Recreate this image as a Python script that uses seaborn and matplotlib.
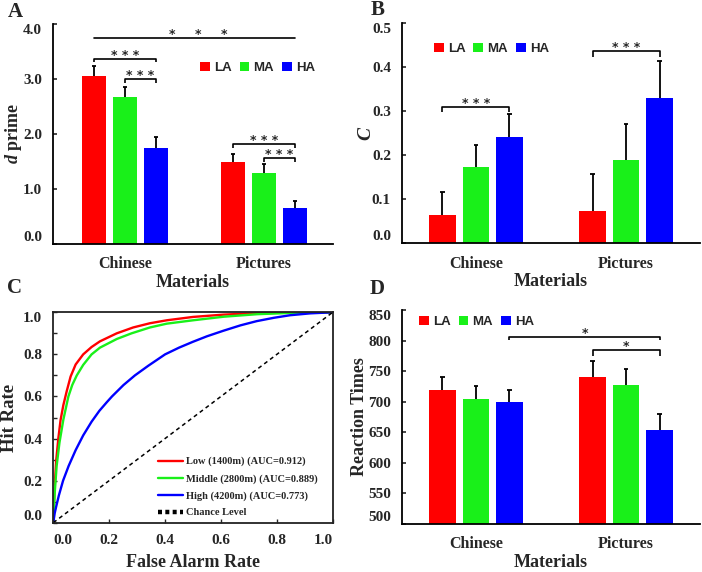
import numpy as np
import pandas as pd
import matplotlib
matplotlib.use("Agg")
import matplotlib.pyplot as plt
import seaborn as sns
from matplotlib.patches import Patch
from matplotlib.lines import Line2D

# ---------------- data ----------------
materials = ["Chinese", "Pictures"]
groups = ["LA", "MA", "HA"]
colors = ["#FF0000", "#19F019", "#0000FF"]

# Panel A: d prime
dprime_chinese = [3.05, 2.67, 1.74]
dprime_pictures = [1.50, 1.30, 0.66]
dprime_err_chinese = [0.19, 0.18, 0.21]
dprime_err_pictures = [0.13, 0.15, 0.13]

# Panel B: criterion C
c_chinese = [0.064, 0.172, 0.242]
c_pictures = [0.073, 0.189, 0.329]
c_err_chinese = [0.051, 0.050, 0.052]
c_err_pictures = [0.084, 0.081, 0.085]

# Panel D: reaction times
rt_chinese = [719.6, 704.8, 698.8]
rt_pictures = [740.8, 727.7, 654.0]
rt_err_chinese = [20.4, 20.8, 19.7]
rt_err_pictures = [25.2, 26.3, 25.7]

# Panel C: ROC curves
low_fa = [0, 0.004, 0.010, 0.018, 0.026, 0.036, 0.048, 0.062, 0.080, 0.107, 0.137,
          0.167, 0.227, 0.286, 0.346, 0.406, 0.50, 0.61, 0.73, 0.85, 1.0]
low_hit = [0, 0.15, 0.29, 0.40, 0.488, 0.559, 0.625, 0.695, 0.752, 0.800, 0.835,
           0.862, 0.900, 0.928, 0.948, 0.962, 0.978, 0.989, 0.996, 0.999, 1.0]
mid_fa = [0, 0.005, 0.012, 0.022, 0.036, 0.054, 0.068, 0.084, 0.107, 0.137, 0.167,
          0.227, 0.28, 0.346, 0.406, 0.50, 0.61, 0.73, 0.85, 1.0]
mid_hit = [0, 0.14, 0.27, 0.38, 0.49, 0.60, 0.655, 0.700, 0.750, 0.800, 0.832,
           0.873, 0.900, 0.928, 0.946, 0.962, 0.979, 0.991, 0.997, 1.0]
high_fa = [0, 0.005, 0.010, 0.020, 0.035, 0.055, 0.080, 0.107, 0.137, 0.165,
           0.191, 0.21, 0.251, 0.292, 0.34, 0.40, 0.45, 0.50, 0.55, 0.608, 0.67,
           0.728, 0.79, 0.847, 0.92, 1.0]
high_hit = [0, 0.045, 0.075, 0.130, 0.200, 0.270, 0.345, 0.415, 0.480, 0.532,
            0.572, 0.600, 0.654, 0.700, 0.746, 0.800, 0.832, 0.860, 0.886, 0.912, 0.938,
            0.958, 0.974, 0.986, 0.995, 1.0]
chance_fa = [0, 1]
chance_hit = [0, 1]
roc_labels = ["Low (1400m) (AUC=0.912)", "Middle (2800m) (AUC=0.889)",
              "High (4200m) (AUC=0.773)", "Chance Level"]

# ---------------- style ----------------
sns.set_style("ticks")
plt.rcParams["font.family"] = ["Liberation Serif", "DejaVu Serif"]
plt.rcParams["font.weight"] = "bold"
plt.rcParams["axes.labelweight"] = "bold"
plt.rcParams["mathtext.fontset"] = "custom"
plt.rcParams["mathtext.it"] = "Liberation Serif:italic:bold"
plt.rcParams["mathtext.rm"] = "Liberation Serif:bold"
plt.rcParams["mathtext.bf"] = "Liberation Serif:bold"
plt.rcParams["axes.linewidth"] = 1.3

fig = plt.figure(figsize=(7.02, 5.72), dpi=100)
W, H = 702.0, 572.0


def add_ax(l, t, r, b):
    return fig.add_axes([l / W, 1 - b / H, (r - l) / W, (b - t) / H])


axA = add_ax(53, 24, 333, 244)
axB = add_ax(402, 23, 700, 243)
axC = add_ax(53.3, 312.3, 332.7, 522.7)
axD = add_ax(402, 310, 700, 524)

TICK_FS = 11
LAB_FS = 13
STAR_FONT = {"family": "DejaVu Sans", "weight": "bold", "size": 9}


def bar_panel(ax, v1, v2, e1, e2, ylim, yticks, fmt, xlim, leg_anchor):
    df = pd.DataFrame({
        "Materials": np.repeat(materials, 3),
        "Group": groups * 2,
        "value": list(v1) + list(v2),
    })
    errs = {(0, i): e for i, e in enumerate(e1)}
    errs.update({(1, i): e for i, e in enumerate(e2)})
    sns.barplot(data=df, x="Materials", y="value", hue="Group", order=materials,
                hue_order=groups, palette=colors, saturation=1, width=0.67,
                gap=0.22, errorbar=None, legend=False, ax=ax, linewidth=0)
    centers = {}
    xs, ys, es = [], [], []
    for p in ax.patches:
        cx = p.get_x() + p.get_width() / 2
        m = int(round(cx))
        off = cx - m
        hi = int(round(off / 0.2233)) + 1
        centers[(m, hi)] = cx
        xs.append(cx)
        ys.append(p.get_height())
        es.append(errs[(m, hi)])
    xs, ys, es = np.array(xs), np.array(ys), np.array(es)
    ax.vlines(xs, ys, ys + es, color="black", lw=1.3, zorder=3)
    cw = 0.016
    ax.hlines(ys + es, xs - cw, xs + cw, color="black", lw=1.3, zorder=3)
    ax.set_ylim(*ylim)
    ax.set_xlim(*xlim)
    ax.set_yticks(yticks)
    ax.set_yticklabels([fmt.format(t) for t in yticks])
    ax.tick_params(axis="y", direction="in", length=3, width=1.2, labelsize=TICK_FS, pad=8)
    ax.tick_params(axis="x", length=0, labelsize=11.5, pad=9)
    labs = ax.get_yticklabels()
    labs[-1].set_va("top")
    labs[0].set_va("bottom")
    sns.despine(ax=ax)
    for s in ["left", "bottom"]:
        ax.spines[s].set_color("black")
    handles = [Patch(facecolor=c, edgecolor="none") for c in colors]
    ax.legend(handles, groups, ncol=3, loc="center left", bbox_to_anchor=leg_anchor,
              frameon=False, borderpad=0, borderaxespad=0, handlelength=0.75,
              handleheight=0.75, handletextpad=0.3, columnspacing=0.6,
              prop={"family": "Liberation Sans", "weight": "bold", "size": 9.5})
    return centers


def bracket(ax, x1, x2, y, drop, text):
    ax.plot([x1, x1, x2, x2], [y - drop, y, y, y - drop], color="black", lw=1.2,
            solid_capstyle="butt")
    ax.text((x1 + x2) / 2, y, text, ha="center", va="baseline", fontdict=STAR_FONT)


# ---------------- Panel A ----------------
cA = bar_panel(axA, dprime_chinese, dprime_pictures, dprime_err_chinese, dprime_err_pictures,
               (0, 4.0), [0, 1, 2, 3, 4], "{:.1f}", (-0.518, 1.496), (0.525, 0.80))
axA.set_ylabel(r"$d$ prime", fontsize=LAB_FS)
axA.set_xlabel("Materials", fontsize=LAB_FS, labelpad=1)
axA.yaxis.set_label_coords(-0.14, 0.5)
axA.plot([cA[(0, 0)], cA[(1, 2)]], [3.75, 3.75], color="black", lw=1.2)
for sx in [0.338, 0.525, 0.712]:
    axA.text(sx, 3.75, "*", ha="center", va="baseline", fontdict=STAR_FONT)
bracket(axA, cA[(0, 0)], cA[(0, 2)], 3.37, 0.07, "* * *")
bracket(axA, cA[(0, 1)], cA[(0, 2)], 3.0, 0.07, "* * *")
bracket(axA, cA[(1, 0)], cA[(1, 2)], 1.82, 0.07, "* * *")
bracket(axA, cA[(1, 1)], cA[(1, 2)], 1.57, 0.08, "* * *")

# ---------------- Panel B ----------------
cB = bar_panel(axB, c_chinese, c_pictures, c_err_chinese, c_err_pictures,
               (0, 0.5), [0, 0.1, 0.2, 0.3, 0.4, 0.5], "{:.1f}", (-0.493, 1.493),
               (0.107, 0.882))
axB.set_ylabel(r"$C$", fontsize=LAB_FS + 1)
axB.set_xlabel("Materials", fontsize=LAB_FS, labelpad=1)
axB.yaxis.set_label_coords(-0.12, 0.5)
bracket(axB, cB[(0, 0)], cB[(0, 2)], 0.309, 0.012, "* * *")
bracket(axB, cB[(1, 0)], cB[(1, 2)], 0.436, 0.013, "* * *")

# ---------------- Panel D ----------------
cD = bar_panel(axD, rt_chinese, rt_pictures, rt_err_chinese, rt_err_pictures,
               (500, 850), list(range(500, 851, 50)), "{:d}", (-0.493, 1.493),
               (0.057, 0.945))
axD.set_ylabel("Reaction Times", fontsize=LAB_FS)
axD.set_xlabel("Materials", fontsize=LAB_FS, labelpad=1)
axD.yaxis.set_label_coords(-0.142, 0.5)
bracket(axD, cD[(0, 2)], cD[(1, 2)], 806, 5, "*")
bracket(axD, cD[(1, 0)], cD[(1, 2)], 785, 11, "*")

# ---------------- Panel C ----------------
roc = [(low_fa, low_hit, colors[0]), (mid_fa, mid_hit, colors[1]), (high_fa, high_hit, colors[2])]
for fx, hy, col in roc:
    sns.lineplot(x=fx, y=hy, color=col, lw=1.7, sort=False, estimator=None, ax=axC)
sns.lineplot(x=chance_fa, y=chance_hit, color="black", lw=1.1, sort=False,
             estimator=None, ax=axC)
axC.lines[-1].set_dashes([2.6, 2.2])
axC.set_xlim(0, 1)
axC.set_ylim(0, 1)
ticks = [0, 0.2, 0.4, 0.6, 0.8, 1.0]
axC.set_xticks(ticks)
axC.set_xticklabels([f"{t:.1f}" for t in ticks])
axC.set_yticks(ticks)
axC.set_yticklabels([f"{t:.1f}" for t in ticks])
axC.set_yticks(np.arange(0.1, 1.0, 0.2), minor=True)
axC.tick_params(axis="both", which="both", direction="in", length=3, width=1.0,
                labelsize=TICK_FS)
axC.tick_params(axis="y", pad=8)
axC.tick_params(axis="x", pad=8)
xl = axC.get_xticklabels()
xl[0].set_ha("left")
xl[-1].set_ha("right")
yl = axC.get_yticklabels()
yl[0].set_va("bottom")
yl[-1].set_va("top")
for s in axC.spines.values():
    s.set_color("#222222")
    s.set_linewidth(1.3)
axC.set_xlabel("False Alarm Rate", fontsize=LAB_FS, labelpad=5)
axC.set_ylabel("Hit Rate", fontsize=LAB_FS + 0.5)
axC.yaxis.set_label_coords(-0.155, 0.5)
handlesC = [Line2D([], [], color=colors[0], lw=1.7),
            Line2D([], [], color=colors[1], lw=1.7),
            Line2D([], [], color=colors[2], lw=1.7),
            Line2D([], [], color="black", lw=3.2, linestyle=(0, (0.9, 0.75)))]
axC.legend(handlesC, roc_labels, loc="lower left", bbox_to_anchor=(0.375, 0.025),
           frameon=False, borderpad=0, borderaxespad=0, handlelength=2.4,
           handletextpad=0.3, labelspacing=0.72,
           prop={"family": "Liberation Serif", "weight": "bold", "size": 7.5})

for ax in [axA, axB, axC, axD]:
    ax.yaxis.label.set_va("center")

# ---------------- Panel letters ----------------
for lab, x, y in [("A", 15, 12), ("B", 378, 10), ("C", 15, 288), ("D", 377, 289)]:
    fig.text(x / W, 1 - y / H, lab, ha="center", va="center", fontsize=15,
             fontweight="bold", family="Liberation Serif")

fig.savefig("out.png", dpi=100)
